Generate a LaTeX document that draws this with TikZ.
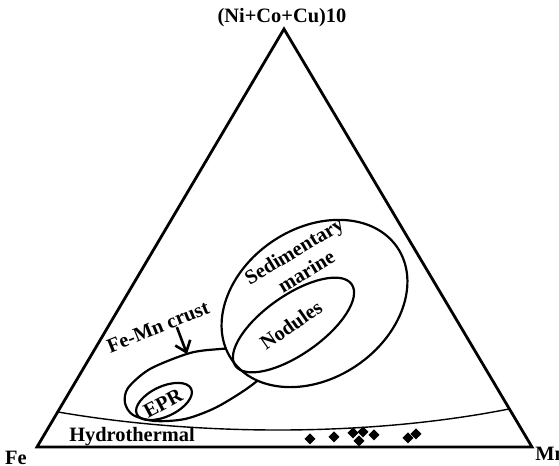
\documentclass[tikz,border=0pt]{standalone}
\usepackage{fontspec}
\setmainfont{Liberation Serif}
\usetikzlibrary{arrows.meta,calc}

\begin{document}
\begin{tikzpicture}[x=0.5pt, y=0.5pt,
  lbl/.style={font=\bfseries\fontsize{10.2}{12}\selectfont, inner sep=0pt},
  zone/.style={line width=1.1pt},
  pointer/.style={line width=1.3pt, -{Straight Barb[length=5pt,width=8pt]}}]
\useasboundingbox (0,0) rectangle (559,466);
\coordinate (fe) at (37,19);
\coordinate (mn) at (532,19);
\coordinate (apex) at (284,437);
\coordinate (h1) at (58,54);
\coordinate (h2) at (509,57);
\coordinate (tip) at (187,112);
\draw[line width=1.4pt] (fe) -- (mn) -- (apex) -- cycle;
\node[lbl] (ncc) at (282,448) {(Ni+Co+Cu)10};
\node[lbl] (nfe) at (16,8) {Fe};
\node[lbl, anchor=west] (nmn) at (535,12) {Mn};
\draw[line width=0.7pt] (h1) .. controls (200,29.5) and (370,29.5) .. (h2);
\draw[zone] plot[smooth] coordinates {(242,118) (220,117) (190,113) (150,97) (128,78) (125,63) (133,51) (155,45) (185,47) (215,58) (245,76) (270,95)};
\draw[zone, fill=white, rotate around={34:(314.5,162.5)}] (314.5,162.5) ellipse [x radius=100, y radius=75];
\draw[zone, rotate around={35:(293.5,141)}] (293.5,141) ellipse [x radius=71, y radius=29.5];
\draw[zone, rotate around={25:(164,64.5)}] (164,64.5) ellipse [x radius=30, y radius=15];
\node[lbl, rotate=28] (epr) at (163,63) {EPR};
\node[lbl, rotate=35] (nod) at (291,141) {Nodules};
\node[lbl, rotate=31, align=center] (sed) at (300,205) {Sedimentary\\marine};
\node[lbl, rotate=22] (crust) at (158,139) {Fe-Mn crust};
\node[lbl] (hyd) at (132,29) {Hydrothermal};
\draw[pointer] ($(crust.south west)!0.66!(crust.south east)$) -- (tip);
\foreach \px/\py in {310/27, 334/29, 353/33, 363/34, 359/25, 374/31, 408/28, 416/32}
  \fill (\px,\py) +(0,5.5) -- +(5.5,0) -- +(0,-5.5) -- +(-5.5,0) -- cycle;
\end{tikzpicture}
\end{document}
